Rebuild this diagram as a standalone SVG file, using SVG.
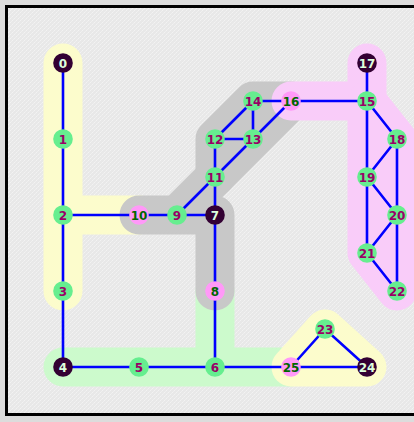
<svg xmlns="http://www.w3.org/2000/svg" width="414" height="422" viewBox="0 0 414 422">
<defs>
<pattern id="dither" width="4" height="4" patternUnits="userSpaceOnUse">
<rect width="4" height="4" fill="#e8e8e8"/>
<rect x="0" y="0" width="1" height="1" fill="#f3f3f3"/>
<rect x="2" y="2" width="1" height="1" fill="#f3f3f3"/>
<rect x="1" y="3" width="1" height="1" fill="#efefef"/>
<rect x="3" y="1" width="1" height="1" fill="#efefef"/>
</pattern>
<style>
.hull{stroke-width:39;stroke-linecap:round;stroke-linejoin:round}
.e{stroke:#0000ff;stroke-width:2.6;fill:none}
.g circle{fill:#66ee8f}
.g text{fill:#990066}
.p circle{fill:#ff99f8}
.p text{fill:#006600}
.d circle{fill:#330033}
.d text{fill:#ddffdd}
text{font-family:"DejaVu Sans","Liberation Sans",sans-serif;font-weight:bold;font-size:12px;text-anchor:middle}
</style>
</defs>
<rect width="414" height="422" fill="#dcdcdc"/>
<rect x="6.5" y="6.5" width="420" height="408" fill="url(#dither)" stroke="#000" stroke-width="3"/>
<g id="hulls">
<path class="hull" d="M63 63 L63 291 M63 215 L139 215" stroke="#fcfccc" fill="none"/>
<path class="hull" d="M215 291 L215 367 M63 367 L291 367" stroke="#ccfacc" fill="none"/>
<path class="hull" d="M139 215 L215 215 L215 291 M177 215 L215 177" stroke="#c8c8c8" fill="none"/>
<path class="hull" d="M215 177 L215 139 L253 101 L291 101 Z" stroke="#c8c8c8" fill="#c8c8c8"/>
<path class="hull" d="M291 101 L367 101 L367 63" stroke="#f9ccf9" fill="none"/>
<path class="hull" d="M367 101 L397 139 L397 291 L367 253 Z" stroke="#f9ccf9" fill="#f9ccf9"/>
<path class="hull" d="M325 329 L367 367 L291 367 Z" stroke="#fcfccc" fill="#fcfccc"/>
</g>
<g id="edges" class="e">
<path d="M63 63 L63 367 M63 215 L177 215 L215 215 M177 215 L215 177 M215 139 L215 291 L215 367 M215 177 L253 139 M215 139 L253 139 M215 139 L253 101 M253 101 L253 139 M253 101 L367 101 M291 101 L253 139 M367 63 L367 253 M367 101 L397 139 M397 139 L367 177 M397 139 L397 291 M367 177 L397 215 M397 215 L367 253 M367 253 L397 291 M63 367 L367 367 M291 367 L325 329 L367 367"/>
</g>
<g id="n0" class="d"><circle cx="63" cy="63" r="9.8"/><text x="63" y="67.5">0</text></g>
<g id="n1" class="g"><circle cx="63" cy="139" r="9.8"/><text x="63" y="143.5">1</text></g>
<g id="n2" class="g"><circle cx="63" cy="215" r="9.8"/><text x="63" y="219.5">2</text></g>
<g id="n3" class="g"><circle cx="63" cy="291" r="9.8"/><text x="63" y="295.5">3</text></g>
<g id="n4" class="d"><circle cx="63" cy="367" r="9.8"/><text x="63" y="371.5">4</text></g>
<g id="n5" class="g"><circle cx="139" cy="367" r="9.8"/><text x="139" y="371.5">5</text></g>
<g id="n6" class="g"><circle cx="215" cy="367" r="9.8"/><text x="215" y="371.5">6</text></g>
<g id="n7" class="d"><circle cx="215" cy="215" r="9.8"/><text x="215" y="219.5">7</text></g>
<g id="n8" class="p"><circle cx="215" cy="291" r="9.8"/><text x="215" y="295.5">8</text></g>
<g id="n9" class="g"><circle cx="177" cy="215" r="9.8"/><text x="177" y="219.5">9</text></g>
<g id="n10" class="p"><circle cx="139" cy="215" r="9.8"/><text x="139" y="219.5">10</text></g>
<g id="n11" class="g"><circle cx="215" cy="177" r="9.8"/><text x="215" y="181.5">11</text></g>
<g id="n12" class="g"><circle cx="215" cy="139" r="9.8"/><text x="215" y="143.5">12</text></g>
<g id="n13" class="g"><circle cx="253" cy="139" r="9.8"/><text x="253" y="143.5">13</text></g>
<g id="n14" class="g"><circle cx="253" cy="101" r="9.8"/><text x="253" y="105.5">14</text></g>
<g id="n15" class="g"><circle cx="367" cy="101" r="9.8"/><text x="367" y="105.5">15</text></g>
<g id="n16" class="p"><circle cx="291" cy="101" r="9.8"/><text x="291" y="105.5">16</text></g>
<g id="n17" class="d"><circle cx="367" cy="63" r="9.8"/><text x="367" y="67.5">17</text></g>
<g id="n18" class="g"><circle cx="397" cy="139" r="9.8"/><text x="397" y="143.5">18</text></g>
<g id="n19" class="g"><circle cx="367" cy="177" r="9.8"/><text x="367" y="181.5">19</text></g>
<g id="n20" class="g"><circle cx="397" cy="215" r="9.8"/><text x="397" y="219.5">20</text></g>
<g id="n21" class="g"><circle cx="367" cy="253" r="9.8"/><text x="367" y="257.5">21</text></g>
<g id="n22" class="g"><circle cx="397" cy="291" r="9.8"/><text x="397" y="295.5">22</text></g>
<g id="n23" class="g"><circle cx="325" cy="329" r="9.8"/><text x="325" y="333.5">23</text></g>
<g id="n24" class="d"><circle cx="367" cy="367" r="9.8"/><text x="367" y="371.5">24</text></g>
<g id="n25" class="p"><circle cx="291" cy="367" r="9.8"/><text x="291" y="371.5">25</text></g>
</svg>
